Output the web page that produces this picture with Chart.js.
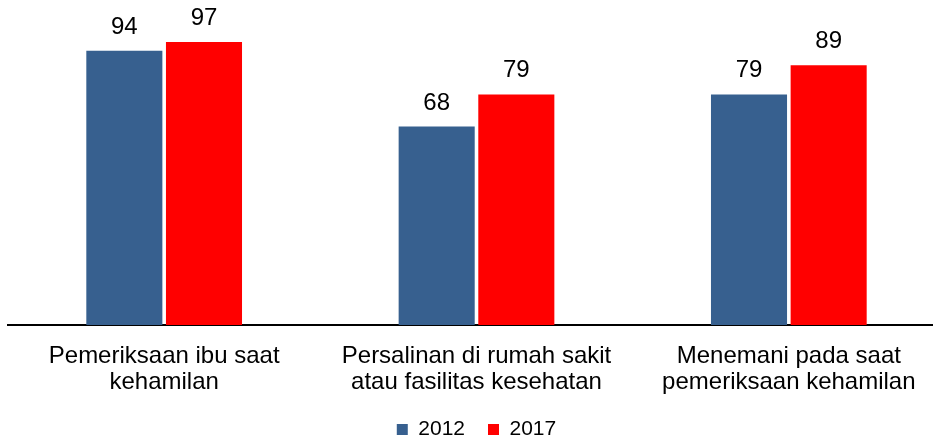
<!DOCTYPE html>
<html>
<head>
<meta charset="utf-8">
<script src="https://cdn.jsdelivr.net/npm/chart.js@4/dist/chart.umd.min.js"></script>
<style>
  html, body { margin: 0; padding: 0; background: #fff; overflow: hidden; }
  #wrap { position: relative; width: 945px; height: 450px; }
</style>
</head>
<body>
<div id="wrap"><canvas id="barChart"></canvas></div>
<script>
// categories and values
const categories = [
  ['Pemeriksaan ibu saat', 'kehamilan'],
  ['Persalinan di rumah sakit', 'atau fasilitas kesehatan'],
  ['Menemani pada saat', 'pemeriksaan kehamilan']
];
const years = ['2012', '2017'];
const values2012 = [94, 68, 79];
const values2017 = [97, 79, 89];

const FONT = 'Arial, "Liberation Sans", sans-serif';

// value labels above each bar
const barLabels = {
  id: 'barLabels',
  afterDatasetsDraw(chart) {
    const ctx = chart.ctx;
    ctx.save();
    ctx.font = '24px ' + FONT;
    ctx.fillStyle = '#000';
    ctx.textAlign = 'center';
    ctx.textBaseline = 'alphabetic';
    chart.data.datasets.forEach((ds, i) => {
      chart.getDatasetMeta(i).data.forEach((bar, j) => {
        ctx.fillText(ds.data[j], bar.x, bar.y - 17);
      });
    });
    ctx.restore();
  }
};

new Chart(document.getElementById('barChart'), {
  type: 'bar',
  data: {
    labels: categories,
    datasets: [{
      label: years[0],
      data: values2012,
      backgroundColor: '#37608F',
      barPercentage: 0.955,
      categoryPercentage: 0.51
    }, {
      label: years[1],
      data: values2017,
      backgroundColor: '#FF0000',
      barPercentage: 0.955,
      categoryPercentage: 0.51
    }]
  },
  options: {
    responsive: true,
    maintainAspectRatio: false,
    animation: false,
    layout: { padding: { left: 8, right: 0, top: 4, bottom: 0 } },
    plugins: {
      legend: {
        position: 'bottom',
        labels: {
          boxWidth: 11,
          boxHeight: 11,
          padding: 23,
          color: '#000',
          font: { size: 21, family: FONT }
        }
      },
      tooltip: { enabled: false }
    },
    scales: {
      x: {
        grid: { display: false, drawTicks: false },
        border: { display: true, color: '#000', width: 2 },
        ticks: {
          color: '#000',
          padding: 18,
          maxRotation: 0,
          font: { size: 24, family: FONT, lineHeight: 1.1 }
        },
        afterFit(scale) { scale.height = 71; }
      },
      y: {
        display: false,
        min: 0,
        max: 110
      }
    }
  },
  plugins: [barLabels]
});
</script>
</body>
</html>
